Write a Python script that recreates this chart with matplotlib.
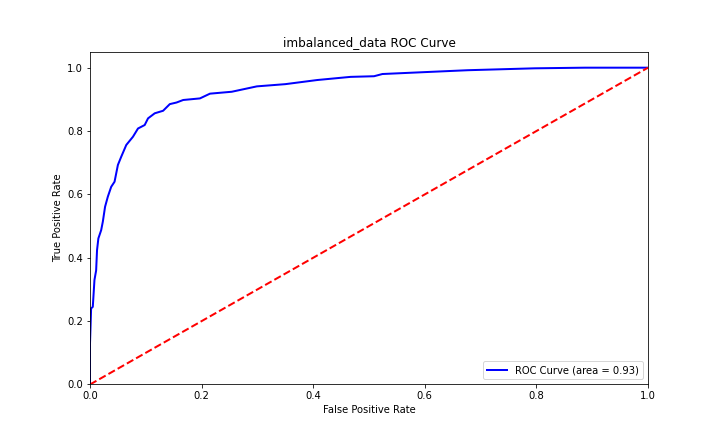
import matplotlib
matplotlib.use('Agg')
import matplotlib.pyplot as plt

# ROC points
fpr = [0.0, 0.0, 0.002, 0.005, 0.008, 0.011, 0.0126, 0.015, 0.02, 0.023, 0.027,
       0.032, 0.038, 0.044, 0.05, 0.056, 0.065, 0.077, 0.086, 0.098, 0.104,
       0.116, 0.131, 0.143, 0.155, 0.167, 0.197, 0.215, 0.254, 0.299, 0.35,
       0.407, 0.467, 0.509, 0.524, 0.6, 0.677, 0.797, 0.887, 1.0]
tpr = [0.0, 0.13, 0.24, 0.245, 0.33, 0.36, 0.424, 0.461, 0.487, 0.514, 0.561,
       0.593, 0.624, 0.64, 0.693, 0.719, 0.756, 0.782, 0.808, 0.819, 0.84,
       0.856, 0.864, 0.885, 0.89, 0.898, 0.903, 0.918, 0.924, 0.941, 0.948,
       0.961, 0.971, 0.973, 0.98, 0.986, 0.992, 0.998, 1.0, 1.0]
roc_auc = 0.93
title = 'imbalanced_data'

plt.figure(figsize=(10, 6), dpi=72)
plt.plot(fpr, tpr, color='blue', lw=2, label='ROC Curve (area = %0.2f)' % roc_auc)
plt.plot([0, 1], [0, 1], color='red', lw=2, linestyle='--')
plt.xlim([0.0, 1.0])
plt.ylim([0.0, 1.05])
plt.xlabel('False Positive Rate')
plt.ylabel('True Positive Rate')
plt.title(title + ' ROC Curve')
plt.legend(loc='lower right')
plt.savefig('out.png')
